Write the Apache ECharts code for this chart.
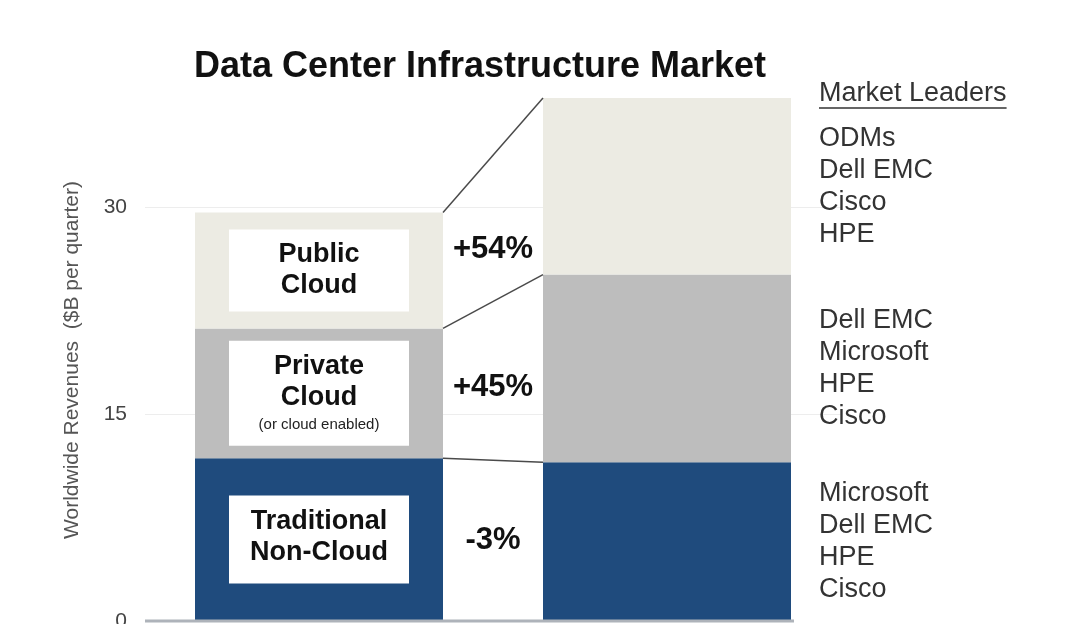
<!DOCTYPE html>
<html>
<head>
<meta charset="utf-8">
<script src="https://cdn.jsdelivr.net/npm/echarts@6/dist/echarts.min.js"></script>
<style>
  html, body { margin: 0; padding: 0; background: #fff; }
  #main { width: 1068px; height: 624px; }
</style>
</head>
<body>
<div id="main"></div>
<script>
// 数据
const categories = ['Before', 'After'];
const traditional = [11.8, 11.5];
const privateCloud = [9.4, 13.6];
const publicCloud = [8.4, 12.8];
const growthLabels = ['-3%', '+45%', '+54%'];
const leadersTraditional = ['Microsoft', 'Dell EMC', 'HPE', 'Cisco'];
const leadersPrivate = ['Dell EMC', 'Microsoft', 'HPE', 'Cisco'];
const leadersPublic = ['ODMs', 'Dell EMC', 'Cisco', 'HPE'];
const yTicks = [0, 15, 30];

const colors = ['#1f4b7d', '#bdbdbd', '#ecebe3'];
const barWidth = 248;
const font = 'Liberation Sans, Arial, sans-serif';

var myChart = echarts.init(document.getElementById('main'));

// 左侧白框标签
function boxLabel(formatter, padding) {
  return {
    show: true,
    position: 'inside',
    formatter: formatter,
    backgroundColor: '#fff',
    width: 180,
    padding: padding,
    align: 'center',
    fontFamily: font,
    rich: {
      b: { fontSize: 27, fontWeight: 'bold', lineHeight: 31, color: '#111', fontFamily: font, align: 'center' },
      s: { fontSize: 15, lineHeight: 24, color: '#222', fontFamily: font, align: 'center' }
    }
  };
}
// 右侧厂商列表
function leaderLabel(list) {
  return {
    show: true,
    position: 'right',
    distance: 28,
    formatter: list.join('\n'),
    fontSize: 27,
    lineHeight: 32,
    color: '#333',
    align: 'left',
    fontFamily: font
  };
}

function makeSeries(name, values, color, box, leaders) {
  return {
    name: name,
    type: 'bar',
    stack: 'total',
    barWidth: barWidth,
    itemStyle: { color: color },
    data: [
      { value: values[0], label: box },
      { value: values[1], label: leaderLabel(leaders) }
    ]
  };
}

var option = {
  backgroundColor: '#fff',
  animation: false,
  title: {
    text: 'Data Center Infrastructure Market',
    left: 475,
    textAlign: 'center',
    top: 44,
    textStyle: { fontSize: 36, fontWeight: 'bold', color: '#111', fontFamily: font }
  },
  grid: { left: 145, right: 227, top: 0, bottom: 3, outerBoundsMode: 'none' },
  xAxis: {
    type: 'category',
    data: categories,
    axisLine: { show: false },
    axisTick: { show: false },
    axisLabel: { show: false }
  },
  yAxis: {
    type: 'value',
    min: 0,
    max: 45,
    interval: 15,
    axisLine: { show: false },
    axisTick: { show: false },
    axisLabel: {
      margin: 18,
      fontSize: 21,
      color: '#444',
      fontFamily: font,
      formatter: function (v) { return yTicks.indexOf(v) >= 0 ? v : ''; }
    },
    splitLine: { showMaxLine: false, showMinLine: false, lineStyle: { color: '#ededed', width: 1 } }
  },
  series: [
    makeSeries('Traditional Non-Cloud', traditional, colors[0],
      boxLabel('{b|Traditional}\n{b|Non-Cloud}', [10, 0, 16, 0]), leadersTraditional),
    makeSeries('Private Cloud', privateCloud, colors[1],
      boxLabel('{b|Private}\n{b|Cloud}\n{s|(or cloud enabled)}', [10, 0, 9, 0]), leadersPrivate),
    makeSeries('Public Cloud', publicCloud, colors[2],
      boxLabel('{b|Public}\n{b|Cloud}', [10, 0, 10, 0]), leadersPublic)
  ]
};

myChart.setOption(option);

// 连接线、增长率、坐标轴线
function px(cat, v) {
  return myChart.convertToPixel({ gridIndex: 0 }, [cat, v]);
}
const segs = [traditional, privateCloud, publicCloud];
const half = barWidth / 2;
let graphics = [];
let cum = [0, 0];
segs.forEach(function (s, i) {
  const l0 = px(0, cum[0]), r0 = px(1, cum[1]);
  cum = [cum[0] + s[0], cum[1] + s[1]];
  const l1 = px(0, cum[0]), r1 = px(1, cum[1]);
  graphics.push({
    type: 'line',
    shape: { x1: l1[0] + half, y1: l1[1], x2: r1[0] - half, y2: r1[1] },
    style: { stroke: '#4a4a4a', lineWidth: 1.5 },
    z: 10
  });
  const leftMid = (l0[1] + l1[1]) / 2;
  const trapMid = (l0[1] + l1[1] + r0[1] + r1[1]) / 4;
  graphics.push({
    type: 'text',
    x: (l1[0] + half + r1[0] - half) / 2,
    y: (leftMid + trapMid) / 2,
    style: {
      text: growthLabels[i],
      fill: '#111',
      font: 'bold 31px ' + font,
      align: 'center',
      verticalAlign: 'middle'
    },
    z: 10
  });
});

const base = px(0, 0);
const endX = px(1, 0)[0] + half + 3;
graphics.push({
  type: 'line',
  shape: { x1: 145, y1: base[1], x2: endX, y2: base[1] },
  style: { stroke: '#aeb3ba', lineWidth: 3 },
  z: 10
});

// Y轴名称
graphics.push({
  type: 'text',
  x: 72,
  y: 360,
  rotation: Math.PI / 2,
  style: {
    text: 'Worldwide Revenues  ($B per quarter)',
    font: '21px ' + font,
    fill: '#555',
    align: 'center',
    verticalAlign: 'middle'
  }
});

// Market Leaders 标题 + 下划线
const headText = 'Market Leaders';
const ctx = document.createElement('canvas').getContext('2d');
ctx.font = '27px ' + font;
const headW = ctx.measureText(headText).width;
const headX = px(1, 0)[0] + half + 28;
graphics.push({
  type: 'text',
  x: headX,
  y: 94,
  style: { text: headText, font: '27px ' + font, fill: '#333', align: 'left', verticalAlign: 'middle' }
});
graphics.push({
  type: 'line',
  shape: { x1: headX, y1: 108, x2: headX + headW, y2: 108 },
  style: { stroke: '#333', lineWidth: 1.5 }
});

myChart.setOption({ graphic: graphics });

window.addEventListener('resize', function () {
  myChart.resize();
});
</script>
</body>
</html>
